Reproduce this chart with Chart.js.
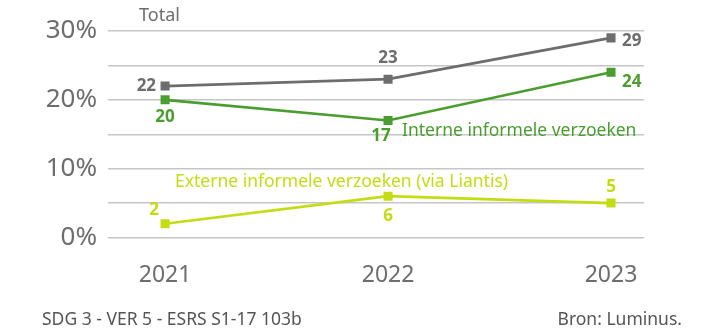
<!DOCTYPE html>
<html>
<head>
<meta charset="utf-8">
<script src="https://cdn.jsdelivr.net/npm/chart.js@4.4.1/dist/chart.umd.min.js"></script>
<style>
  html, body { margin: 0; padding: 0; background: #ffffff; }
  #wrap { position: relative; width: 706px; height: 331px; font-family: "Noto Sans", sans-serif; }
  #chart { position: absolute; left: 0; top: 0; }
  .foot { position: absolute; top: 306px; font-size: 17.5px; line-height: 24px; color: #555555; white-space: nowrap; }
</style>
</head>
<body>
<div id="wrap">
  <canvas id="chart" width="706" height="331"></canvas>
  <div class="foot" style="left:42px;">SDG 3 - VER 5 - ESRS S1-17 103b</div>
  <div class="foot" style="right:24px;">Bron: Luminus.</div>
</div>
<script>
// Years on the horizontal axis
const years = [2021, 2022, 2023];
// Shares in percent
const total = [22, 23, 29];
const interne = [20, 17, 24];
const externe = [2, 6, 5];
// Series names
const seriesNames = ['Total', 'Interne informele verzoeken', 'Externe informele verzoeken (via Liantis)'];
// Labelled value-axis ticks (percent); gridlines every 5
const yTicks = [0, 10, 20, 30];
const yGrid = [0, 5, 10, 15, 20, 25, 30];

const GREY = '#6d6d6d';
const GREEN = '#4a9e2f';
const LIME = '#c4dc12';

const toPoints = arr => years.map((yr, i) => ({ x: yr, y: arr[i] }));

// Where each value label sits relative to its marker: [dx, dy, align]
const labelPlacement = [
  [[-9, 0, 'right'], [0, -21, 'center'], [11, 3, 'left']],
  [[0, 17, 'center'], [-7, 16, 'center'], [11, 10, 'left']],
  [[-11, -14, 'center'], [0, 20, 'center'], [0, -16, 'center']]
];

const labelsPlugin = {
  id: 'seriesText',
  afterDatasetsDraw(chart) {
    const ctx = chart.ctx;
    const area = chart.chartArea;
    ctx.save();
    ctx.textBaseline = 'middle';
    chart.data.datasets.forEach((ds, di) => {
      const meta = chart.getDatasetMeta(di);
      ctx.fillStyle = ds.borderColor;
      ctx.font = 'bold 17px "Noto Sans", sans-serif';
      meta.data.forEach((pt, i) => {
        const p = labelPlacement[di][i];
        ctx.textAlign = p[2];
        ctx.fillText(String(ds.data[i].y), pt.x + p[0], pt.y + p[1]);
      });
    });
    // Series names
    ctx.textAlign = 'left';
    ctx.font = '18px "Noto Sans", sans-serif';
    ctx.fillStyle = GREY;
    ctx.fillText(seriesNames[0], area.left + 31, 16);
    ctx.font = '17.5px "Noto Sans", sans-serif';
    ctx.fillStyle = GREEN;
    ctx.fillText(seriesNames[1], area.left + 294, 131);
    ctx.fillStyle = LIME;
    ctx.fillText(seriesNames[2], area.left + 67, 182);
    ctx.restore();
  }
};

const mkSet = (arr, color) => ({
  data: toPoints(arr),
  borderColor: color,
  backgroundColor: color,
  borderWidth: 2.7,
  pointStyle: 'rect',
  pointRadius: 4.5,
  pointHoverRadius: 4.5,
  tension: 0
});

new Chart(document.getElementById('chart'), {
  type: 'line',
  data: {
    datasets: [mkSet(total, GREY), mkSet(interne, GREEN), mkSet(externe, LIME)]
  },
  options: {
    responsive: false,
    animation: false,
    events: [],
    layout: { padding: { left: 0, right: 62, top: 31, bottom: 0 } },
    plugins: { legend: { display: false }, tooltip: { enabled: false } },
    scales: {
      x: {
        type: 'linear',
        min: 2020.744,
        max: 2023.148,
        afterBuildTicks: axis => { axis.ticks = years.map(v => ({ value: v })); },
        afterFit: axis => { axis.height = 93.5; },
        grid: { display: false },
        border: { display: false },
        ticks: {
          padding: 16,
          color: GREY,
          font: { family: '"Noto Sans", sans-serif', size: 23 },
          callback: v => String(v)
        }
      },
      y: {
        min: 0,
        max: 30,
        afterBuildTicks: axis => { axis.ticks = yGrid.map(v => ({ value: v })); },
        afterFit: axis => { axis.width = 108; },
        grid: { color: '#c6c6c6', lineWidth: 1.5, drawTicks: false },
        border: { display: false },
        ticks: {
          padding: 11,
          color: GREY,
          font: { family: '"Noto Sans", sans-serif', size: 26 },
          callback: v => yTicks.includes(v) ? v + '%' : ''
        }
      }
    }
  },
  plugins: [labelsPlugin]
});
</script>
</body>
</html>
